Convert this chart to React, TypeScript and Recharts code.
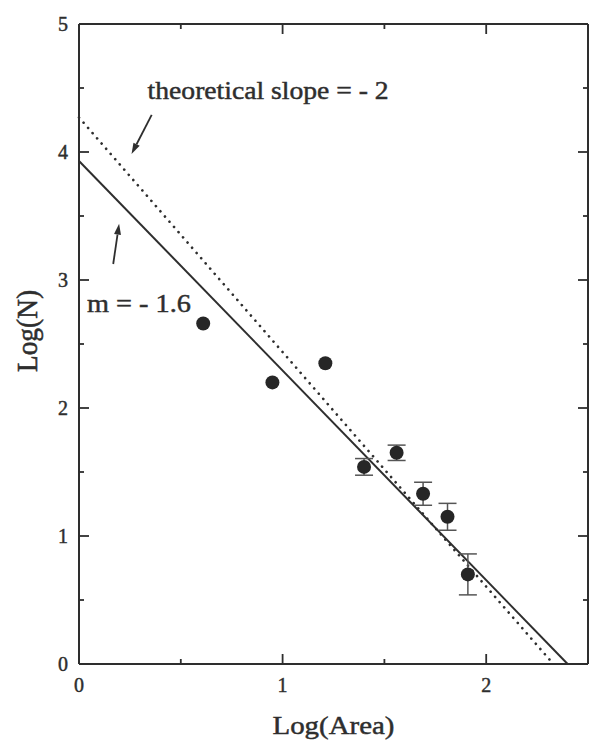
import React from 'react';
import {
  ScatterChart,
  Scatter,
  XAxis,
  YAxis,
  ErrorBar,
  ReferenceLine,
  ReferenceDot,
  Label,
} from 'recharts';

// ---- data ----
const logArea = [0.61, 0.95, 1.21, 1.4, 1.56, 1.69, 1.81, 1.91];
const logN = [2.66, 2.2, 2.35, 1.54, 1.65, 1.33, 1.15, 0.7];
const logNErr: (number | null)[] = [null, null, null, 0.065, 0.06, 0.09, 0.105, 0.16];

const xTicks = [0, 0.5, 1, 1.5, 2, 2.5];
const yTicks = [0, 0.5, 1, 1.5, 2, 2.5, 3, 3.5, 4, 4.5, 5];

// fitted line (m = -1.6) and theoretical slope line, as endpoints in data space
const fitLine = [
  { x: 0, y: 3.93 },
  { x: 2.4, y: 0 },
];
const theoryLine = [
  { x: 0, y: 4.27 },
  { x: 2.33, y: 0 },
];

// annotation arrows (tail -> head) in data space
const theoryArrow = [
  { x: 0.357, y: 4.29 },
  { x: 0.258, y: 3.984 },
];
const fitArrow = [
  { x: 0.168, y: 3.125 },
  { x: 0.197, y: 3.44 },
];

const annotations = [
  { text: 'theoretical slope = - 2', x: 0.337, y: 4.414, length: 241 },
  { text: 'm = - 1.6', x: 0.039, y: 2.75, length: 104 },
];

const plainPoints = logArea
  .map((x, i) => ({ x, y: logN[i], err: logNErr[i] }))
  .filter((d) => d.err == null);
const errPoints = logArea
  .map((x, i) => ({ x, y: logN[i], err: logNErr[i] }))
  .filter((d) => d.err != null);

// ---- styles ----
const INK = '#2e2e2e';
const FONT = '"Liberation Serif", "Times New Roman", serif';
const TEXT_WEIGHT = { stroke: INK, strokeWidth: 0.45 };

const makeTick = (side: 'bottom' | 'top' | 'left' | 'right', labels: boolean) => (props: any) => {
  const { x, y, payload } = props;
  const v = payload.value as number;
  const major = Math.abs(v - Math.round(v)) < 1e-9;
  const len = major ? 10 : 5;
  let line;
  if (side === 'bottom') line = <line x1={x} y1={y} x2={x} y2={y - len} />;
  else if (side === 'top') line = <line x1={x} y1={y} x2={x} y2={y + len} />;
  else if (side === 'left') line = <line x1={x} y1={y} x2={x + len} y2={y} />;
  else line = <line x1={x} y1={y} x2={x - len} y2={y} />;
  let label = null;
  if (labels && major) {
    if (side === 'bottom')
      label = (
        <text x={x} y={y + 28} textAnchor="middle" fontSize={20} fontFamily={FONT} fill={INK} {...TEXT_WEIGHT}>
          {v}
        </text>
      );
    else if (side === 'left')
      label = (
        <text x={x - 11} y={y + 7} textAnchor="end" fontSize={20} fontFamily={FONT} fill={INK} {...TEXT_WEIGHT}>
          {v}
        </text>
      );
  }
  return (
    <g>
      <g stroke={INK} strokeWidth={1.8}>{line}</g>
      {label}
    </g>
  );
};

const arrowShape = (props: any) => {
  const { x1, y1, x2, y2 } = props;
  const ang = Math.atan2(y2 - y1, x2 - x1);
  const L = 11;
  const W = 3.5;
  const bx = x2 - L * Math.cos(ang);
  const by = y2 - L * Math.sin(ang);
  const px = -Math.sin(ang) * W;
  const py = Math.cos(ang) * W;
  return (
    <g>
      <line x1={x1} y1={y1} x2={bx} y2={by} stroke={INK} strokeWidth={1.8} />
      <polygon points={`${x2},${y2} ${bx + px},${by + py} ${bx - px},${by - py}`} fill={INK} />
    </g>
  );
};

const dotShape = (props: any) => <circle cx={props.cx} cy={props.cy} r={7} fill="#262626" />;

const textShape = (text: string, length: number) => (props: any) => (
  <text
    x={props.cx}
    y={props.cy}
    fontSize={25}
    fontFamily={FONT}
    fill={INK}
    {...TEXT_WEIGHT}
    textLength={length}
    lengthAdjust="spacingAndGlyphs"
  >
    {text}
  </text>
);

const xLabel = (props: any) => {
  const vb = props.viewBox;
  return (
    <text
      x={vb.x + vb.width / 2}
      y={vb.y + 70}
      textAnchor="middle"
      fontSize={25}
      fontFamily={FONT}
      fill={INK}
      {...TEXT_WEIGHT}
      textLength={122}
      lengthAdjust="spacingAndGlyphs"
    >
      Log(Area)
    </text>
  );
};

const yLabel = (props: any) => {
  const vb = props.viewBox;
  const cx = vb.x + vb.width - 42;
  const cy = vb.y + vb.height / 2 - 13;
  return (
    <text
      transform={`translate(${cx},${cy}) rotate(-90) scale(1,1.2)`}
      x={0}
      y={0}
      textAnchor="middle"
      fontSize={25}
      fontFamily={FONT}
      fill={INK}
      {...TEXT_WEIGHT}
      textLength={82}
      lengthAdjust="spacingAndGlyphs"
    >
      Log(N)
    </text>
  );
};

const AXIS_LINE = { stroke: INK, strokeWidth: 2 };

export default function App() {
  return (
    <div style={{ position: 'absolute', left: 0, top: 0, width: 591, height: 742, background: '#fff' }}>
      <ScatterChart width={591} height={742} margin={{ top: 23, right: 2, bottom: 77, left: 78 }}>
        <XAxis
          type="number"
          dataKey="x"
          domain={[0, 2.5]}
          ticks={xTicks}
          allowDataOverflow
          height={1}
          tickSize={0}
          tickMargin={0}
          tickLine={false}
          tick={makeTick('bottom', true)}
          axisLine={AXIS_LINE}
          interval={0}
        >
          <Label content={xLabel} position="bottom" />
        </XAxis>
        <XAxis
          xAxisId="top"
          orientation="top"
          type="number"
          dataKey="x"
          domain={[0, 2.5]}
          ticks={xTicks}
          allowDataOverflow
          height={1}
          tickSize={0}
          tickMargin={0}
          tickLine={false}
          tick={makeTick('top', false)}
          axisLine={AXIS_LINE}
          interval={0}
        />
        <YAxis
          type="number"
          dataKey="y"
          domain={[0, 5]}
          ticks={yTicks}
          allowDataOverflow
          width={1}
          tickSize={0}
          tickMargin={0}
          tickLine={false}
          tick={makeTick('left', true)}
          axisLine={AXIS_LINE}
          interval={0}
        >
          <Label content={yLabel} position="left" />
        </YAxis>
        <YAxis
          yAxisId="right"
          orientation="right"
          type="number"
          dataKey="y"
          domain={[0, 5]}
          ticks={yTicks}
          allowDataOverflow
          width={1}
          tickSize={0}
          tickMargin={0}
          tickLine={false}
          tick={makeTick('right', false)}
          axisLine={AXIS_LINE}
          interval={0}
        />

        <ReferenceLine
          segment={theoryLine}
          stroke={INK}
          strokeWidth={2.6}
          strokeDasharray="0.1 6.8"
          strokeLinecap="round"
          ifOverflow="visible"
        />
        <ReferenceLine segment={fitLine} stroke={INK} strokeWidth={2} ifOverflow="visible" />
        <ReferenceLine segment={theoryArrow} shape={arrowShape} ifOverflow="visible" />
        <ReferenceLine segment={fitArrow} shape={arrowShape} ifOverflow="visible" />

        {annotations.map((a) => (
          <ReferenceDot
            key={a.text}
            x={a.x}
            y={a.y}
            r={0}
            ifOverflow="visible"
            shape={textShape(a.text, a.length)}
          />
        ))}

        <Scatter data={plainPoints} shape={dotShape} isAnimationActive={false} />
        <Scatter data={errPoints} shape={dotShape} isAnimationActive={false}>
          <ErrorBar dataKey="err" direction="y" width={9} stroke="#555" strokeWidth={1.5} />
        </Scatter>
      </ScatterChart>
    </div>
  );
}
